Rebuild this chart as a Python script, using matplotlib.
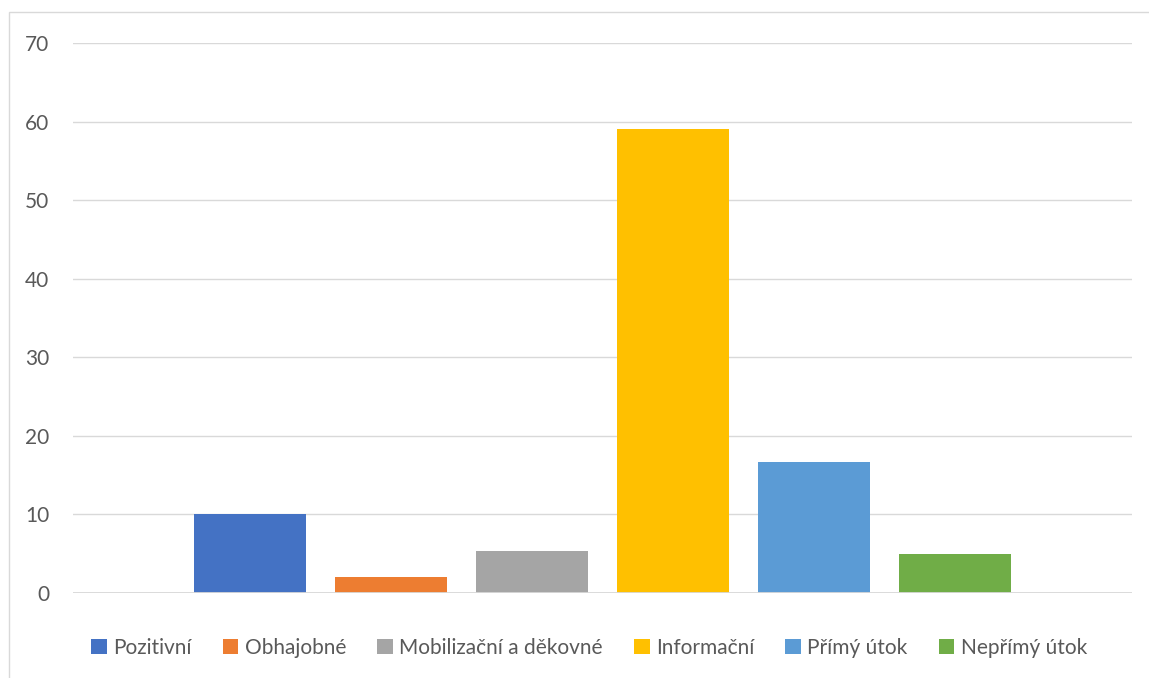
import matplotlib
matplotlib.use("Agg")
import matplotlib.pyplot as plt
from matplotlib.patches import Rectangle

categories = ["Pozitivní", "Obhajobné", "Mobilizační a děkovné",
              "Informační", "Přímý útok", "Nepřímý útok"]
values = [10, 2, 5.3, 59, 16.7, 5]
colors = ["#4472C4", "#ED7D31", "#A5A5A5", "#FFC000", "#5B9BD5", "#70AD47"]
yticks = [0, 10, 20, 30, 40, 50, 60, 70]

plt.rcParams["font.family"] = ["Lato", "DejaVu Sans"]
text_color = "#595959"
grid_color = "#D9D9D9"

W, H = 1149, 678
fig = plt.figure(figsize=(W / 100, H / 100), dpi=100)
fig.patch.set_facecolor("white")

# chart-area frame
fig.patches.append(Rectangle((8.5 / W, -0.05), 1.2, (H - 11.5) / H + 0.05,
                             transform=fig.transFigure, fill=False,
                             edgecolor=grid_color, linewidth=1.0, zorder=0))

ax = fig.add_axes([73 / W, 85 / H, (1132 - 73) / W, (635 - 85) / H])
for i, (cat, v, c) in enumerate(zip(categories, values, colors)):
    ax.bar(i, v, width=0.794, color=c, label=cat, zorder=3)

ax.set_xlim(2.5 - 3.755, 2.5 + 3.755)
ax.set_ylim(0, 70)
ax.set_yticks(yticks)
ax.set_xticks([])
ax.yaxis.grid(True, color=grid_color, linewidth=1.0, zorder=0)
ax.axhline(0, color=grid_color, linewidth=1.3, zorder=4)
for s in ax.spines.values():
    s.set_visible(False)
ax.tick_params(axis="y", length=0, pad=17, labelsize=15, labelcolor=text_color)

leg = fig.legend(loc="center", bbox_to_anchor=(589 / W, 1 - 648 / H), ncol=6,
                 frameon=False, fontsize=15, handlelength=0.75, handleheight=0.75,
                 handletextpad=0.3, columnspacing=1.5, labelcolor=text_color)

fig.savefig("out.png", dpi=100)
